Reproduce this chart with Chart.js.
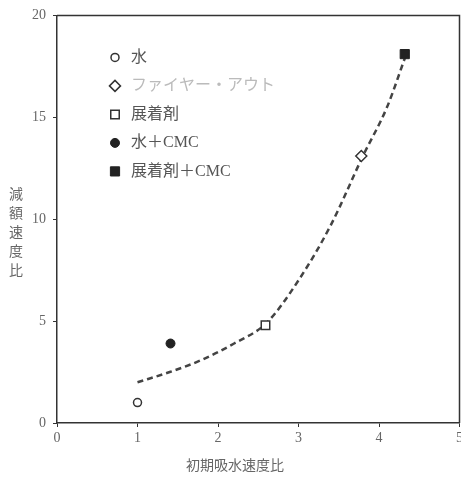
<!DOCTYPE html>
<html>
<head>
<meta charset="utf-8">
<script src="https://cdn.jsdelivr.net/npm/chart.js@4"></script>
<style>
  html, body { margin: 0; padding: 0; background: #fff; overflow: hidden; }
  #wrap { width: 461px; height: 481px; overflow: hidden; }
</style>
</head>
<body>
<div id="wrap"><canvas id="c" width="467" height="481"></canvas></div>
<script>
// points
const seriesLabels = ['水', 'ファイヤー・アウト', '展着剤', '水＋CMC', '展着剤＋CMC'];
const waterX = [1.0],        waterY = [1.0];
const fireOutX = [3.78],     fireOutY = [13.1];
const spreaderX = [2.59],    spreaderY = [4.8];
const waterCmcX = [1.41],    waterCmcY = [3.9];
const spreaderCmcX = [4.32], spreaderCmcY = [18.1];

// dashed trend curve, traced by eye
const curveX = [1.0, 1.4, 1.8, 2.2, 2.6, 3.0, 3.4, 3.8, 4.1, 4.33];
const curveY = [2.0, 2.5, 3.1, 3.9, 4.9, 7.0, 9.7, 13.1, 15.5, 18.0];

const xTicks = [0, 1, 2, 3, 4, 5];
const yTicks = [0, 5, 10, 15, 20];
const xTitle = '初期吸水速度比';
const yTitle = '減額速度比';

const ink = '#333';
const serif = "'Liberation Serif', 'DejaVu Serif', 'Noto Sans CJK JP', serif";
const cjk = "'Liberation Serif', 'Noto Sans CJK JP', serif";

function pts(xs, ys) {
    return xs.map((x, i) => ({ x: x, y: ys[i] }));
}

const datasets = [
    { label: seriesLabels[0], data: pts(waterX, waterY), pointStyle: 'circle', pointRadius: 4,
      backgroundColor: '#fff', borderColor: ink, borderWidth: 1.5 },
    { label: seriesLabels[1], data: pts(fireOutX, fireOutY), pointStyle: 'rectRot', pointRadius: 5.5,
      backgroundColor: '#fff', borderColor: ink, borderWidth: 1.5 },
    { label: seriesLabels[2], data: pts(spreaderX, spreaderY), pointStyle: 'rect', pointRadius: 6,
      backgroundColor: '#fff', borderColor: ink, borderWidth: 1.5 },
    { label: seriesLabels[3], data: pts(waterCmcX, waterCmcY), pointStyle: 'circle', pointRadius: 4.5,
      backgroundColor: '#222', borderColor: '#222', borderWidth: 1 },
    { label: seriesLabels[4], data: pts(spreaderCmcX, spreaderCmcY), pointStyle: 'rect', pointRadius: 6.5,
      backgroundColor: '#222', borderColor: '#222', borderWidth: 1 },
    { label: 'curve', type: 'line', data: pts(curveX, curveY), showLine: true,
      borderColor: '#444', borderWidth: 2.5, borderDash: [6, 4], pointRadius: 0,
      tension: 0.4, cubicInterpolationMode: 'monotone', fill: false }
];

// legend inside the plot, frame on top/right, and the two axis titles
const extras = {
    id: 'extras',
    afterDraw(chart) {
        const ctx = chart.ctx;
        const a = chart.chartArea;
        ctx.save();
        ctx.strokeStyle = ink;
        ctx.lineWidth = 1.5;
        ctx.beginPath();
        ctx.moveTo(a.left, a.top);
        ctx.lineTo(a.right, a.top);
        ctx.lineTo(a.right, a.bottom);
        ctx.stroke();

        // legend
        const textColors = ['#555', '#bbb', '#555', '#555', '#555'];
        seriesLabels.forEach((lab, i) => {
            const ds = chart.data.datasets[i];
            const y = a.top + 42 + i * 28.5;
            const x = 115;
            ctx.fillStyle = ds.backgroundColor;
            ctx.strokeStyle = ds.borderColor;
            ctx.lineWidth = ds.borderWidth;
            Chart.helpers.drawPoint(ctx, {
                pointStyle: ds.pointStyle, radius: ds.pointRadius, borderWidth: ds.borderWidth, rotation: 0
            }, x, y);
            ctx.fillStyle = textColors[i];
            ctx.font = '16px ' + cjk;
            ctx.textBaseline = 'middle';
            ctx.textAlign = 'left';
            ctx.fillText(lab, 131, y);
        });

        // x title
        ctx.fillStyle = '#666';
        ctx.font = '14px ' + cjk;
        ctx.textAlign = 'center';
        ctx.textBaseline = 'middle';
        ctx.fillText(xTitle, 235, 466);

        // y title, stacked upright
        ctx.font = '14px ' + cjk;
        const chars = Array.from(yTitle);
        chars.forEach((ch, i) => {
            ctx.fillText(ch, 16, 195 + i * 19);
        });
        ctx.restore();
    }
};

new Chart(document.getElementById('c'), {
    type: 'scatter',
    data: { datasets: datasets },
    options: {
        responsive: false,
        animation: false,
        layout: { padding: { top: 15, right: 1, left: 0, bottom: 0 } },
        plugins: { legend: { display: false }, tooltip: { enabled: false } },
        scales: {
            x: {
                type: 'linear', min: xTicks[0], max: xTicks[xTicks.length - 1],
                afterBuildTicks: s => { s.ticks = xTicks.map(v => ({ value: v })); },
                afterFit: s => { s.height = 58; },
                border: { color: ink, width: 1.5 },
                grid: { drawOnChartArea: false, drawTicks: true, tickLength: 4, color: ink },
                ticks: { color: '#666', font: { family: serif, size: 14 }, padding: 3 }
            },
            y: {
                type: 'linear', min: yTicks[0], max: yTicks[yTicks.length - 1],
                afterBuildTicks: s => { s.ticks = yTicks.map(v => ({ value: v })); },
                afterFit: s => { s.width = 57; },
                border: { color: ink, width: 1.5 },
                grid: { drawOnChartArea: false, drawTicks: true, tickLength: 4, color: ink },
                ticks: { color: '#666', font: { family: serif, size: 14 }, padding: 7 }
            }
        }
    },
    plugins: [extras]
});
</script>
</body>
</html>
